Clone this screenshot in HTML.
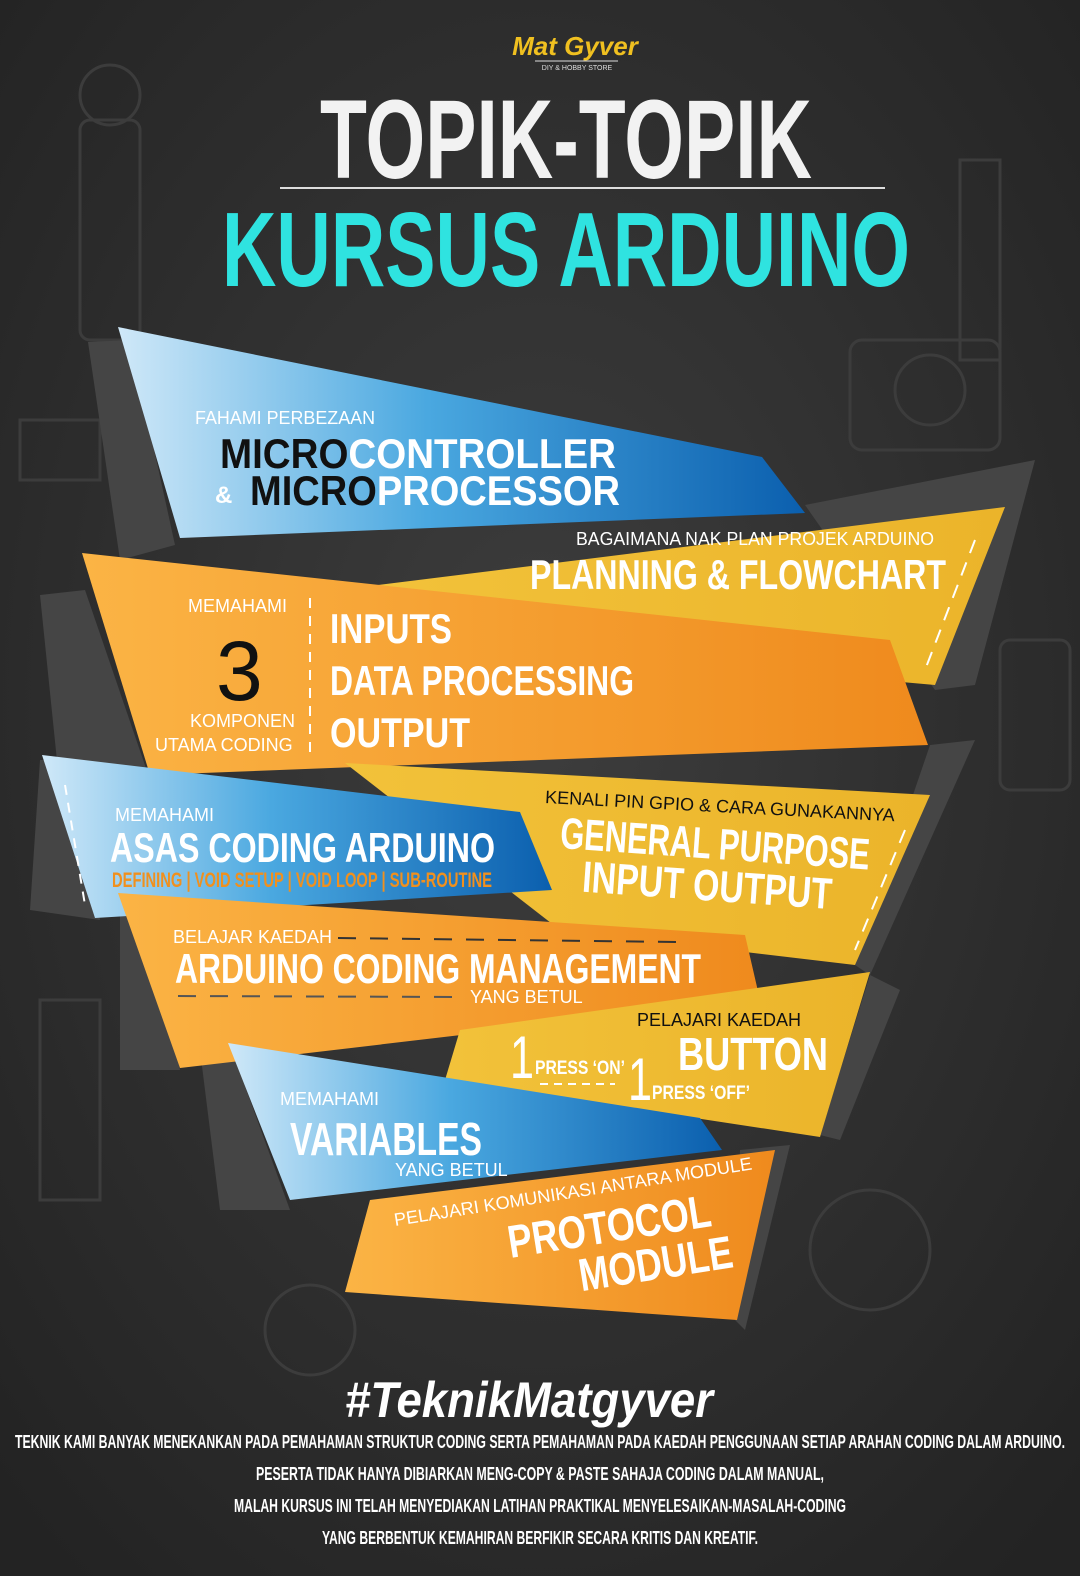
<!DOCTYPE html>
<html><head><meta charset="utf-8"><style>
html,body{margin:0;padding:0;background:#2c2c2c;}
svg{display:block}
text{font-family:"Liberation Sans Narrow","Liberation Sans",sans-serif;}
.b{font-weight:bold}
</style></head><body>
<svg width="1080" height="1576" viewBox="0 0 1080 1576" xmlns="http://www.w3.org/2000/svg">
<defs>
<radialGradient id="bg" cx="0.5" cy="0.45" r="0.7">
<stop offset="0" stop-color="#3d3d3d"/><stop offset="1" stop-color="#232323"/></radialGradient>
<linearGradient id="blue" x1="0" y1="0" x2="1" y2="0">
<stop offset="0" stop-color="#cfe8f8"/><stop offset="0.45" stop-color="#4aa8e0"/><stop offset="1" stop-color="#0b5fae"/></linearGradient>
<linearGradient id="org" x1="0" y1="0" x2="1" y2="0">
<stop offset="0" stop-color="#fbb445"/><stop offset="1" stop-color="#ef8a1d"/></linearGradient>
<linearGradient id="yel" x1="0" y1="0" x2="1" y2="0">
<stop offset="0" stop-color="#f2c23a"/><stop offset="1" stop-color="#ebb42a"/></linearGradient>
</defs>
<rect width="1080" height="1576" fill="url(#bg)"/>
<g stroke="#3c3c3c" stroke-width="3" fill="none">
<rect x="80" y="120" width="60" height="220" rx="10"/><circle cx="110" cy="95" r="30"/>
<rect x="960" y="160" width="40" height="200"/><rect x="850" y="340" width="150" height="110" rx="12"/>
<circle cx="930" cy="390" r="35"/><rect x="1000" y="640" width="70" height="150" rx="10"/>
<circle cx="870" cy="1250" r="60"/><circle cx="310" cy="1330" r="45"/>
<rect x="20" y="420" width="80" height="60"/><rect x="40" y="1000" width="60" height="200"/>
</g>
<text x="575" y="55" text-anchor="middle" font-size="26" font-style="italic" fill="#f0c020" class="b" font-family="Liberation Serif">Mat Gyver</text>
<line x1="535" y1="61" x2="618" y2="61" stroke="#ddd" stroke-width="1"/>
<text x="577" y="70" text-anchor="middle" font-size="7" fill="#ddd">DIY &amp; HOBBY STORE</text>
<text x="320" y="178" font-size="112" class="b" fill="#f2f2f2" textLength="492" lengthAdjust="spacingAndGlyphs">TOPIK-TOPIK</text>
<line x1="280" y1="188" x2="885" y2="188" stroke="#ddd" stroke-width="2"/>
<text x="222" y="286" font-size="106" class="b" fill="#2fe3e0" textLength="688" lengthAdjust="spacingAndGlyphs">KURSUS ARDUINO</text>

<g fill="#454545">
<polygon points="88,342 130,340 175,545 120,560"/>
<polygon points="805,505 1035,460 975,685 935,690"/>
<polygon points="40,595 85,590 150,780 60,790"/>
<polygon points="930,745 975,740 870,975 855,965"/>
<polygon points="40,760 70,760 100,920 30,910"/>
<polygon points="120,900 150,900 180,1070 120,1070"/>
<polygon points="870,975 900,990 840,1140 820,1135"/>
<polygon points="200,1050 230,1045 290,1210 220,1210"/>
<polygon points="740,1150 790,1145 745,1330 735,1320"/>
</g>

<polygon points="118,327 762,457 805,513 180,538" fill="url(#blue)"/>
<text x="195" y="424" font-size="18" fill="#fff" textLength="180" lengthAdjust="spacingAndGlyphs">FAHAMI PERBEZAAN</text>
<text x="220" y="468" font-size="42" class="b" textLength="396" lengthAdjust="spacingAndGlyphs"><tspan fill="#111">MICRO</tspan><tspan fill="#fff">CONTROLLER</tspan></text>
<text x="215" y="503" font-size="24" class="b" fill="#fff">&amp;</text>
<text x="250" y="505" font-size="42" class="b" textLength="370" lengthAdjust="spacingAndGlyphs"><tspan fill="#111">MICRO</tspan><tspan fill="#fff">PROCESSOR</tspan></text>

<polygon points="378,585 1005,507 935,685 600,655" fill="url(#yel)"/>
<text x="576" y="545" font-size="18" fill="#fff" textLength="358" lengthAdjust="spacingAndGlyphs">BAGAIMANA NAK PLAN PROJEK ARDUINO</text>
<text x="530" y="589" font-size="42" class="b" fill="#fff" textLength="416" lengthAdjust="spacingAndGlyphs">PLANNING &amp; FLOWCHART</text>
<line x1="975" y1="540" x2="925" y2="670" stroke="#fff" stroke-width="2" stroke-dasharray="14,10"/>

<polygon points="82,553 890,640 928,745 150,775" fill="url(#org)"/>
<text x="188" y="612" font-size="18" fill="#fff">MEMAHAMI</text>
<text x="216" y="700" font-size="84" fill="#111">3</text>
<text x="190" y="727" font-size="18" fill="#fff">KOMPONEN</text>
<text x="155" y="751" font-size="18" fill="#fff">UTAMA CODING</text>
<line x1="310" y1="598" x2="310" y2="752" stroke="#fff" stroke-width="2" stroke-dasharray="10,8"/>
<text x="330" y="643" font-size="42" class="b" fill="#fff" textLength="122" lengthAdjust="spacingAndGlyphs">INPUTS</text>
<text x="330" y="695" font-size="42" class="b" fill="#fff" textLength="304" lengthAdjust="spacingAndGlyphs">DATA PROCESSING</text>
<text x="330" y="747" font-size="42" class="b" fill="#fff" textLength="140" lengthAdjust="spacingAndGlyphs">OUTPUT</text>

<polygon points="345,763 930,795 855,965 560,930" fill="url(#yel)"/>
<g transform="rotate(3 545 800)"><text x="545" y="803" font-size="18" fill="#111" textLength="350" lengthAdjust="spacingAndGlyphs">KENALI PIN GPIO &amp; CARA GUNAKANNYA</text></g>
<g transform="rotate(4 560 840)"><text x="560" y="848" font-size="44" class="b" fill="#fff" textLength="310" lengthAdjust="spacingAndGlyphs">GENERAL PURPOSE</text>
<text x="585" y="890" font-size="44" class="b" fill="#fff" textLength="250" lengthAdjust="spacingAndGlyphs">INPUT OUTPUT</text></g>
<line x1="905" y1="830" x2="855" y2="950" stroke="#fff" stroke-width="2" stroke-dasharray="14,10"/>

<polygon points="42,755 520,812 552,890 95,918" fill="url(#blue)"/>
<line x1="65" y1="785" x2="85" y2="905" stroke="#fff" stroke-width="2" stroke-dasharray="10,8"/>
<text x="115" y="821" font-size="18" fill="#fff">MEMAHAMI</text>
<text x="110" y="862" font-size="42" class="b" fill="#fff" textLength="385" lengthAdjust="spacingAndGlyphs">ASAS CODING ARDUINO</text>
<text x="112" y="887" font-size="21" class="b" fill="#f0901e" textLength="380" lengthAdjust="spacingAndGlyphs">DEFINING | VOID SETUP | VOID LOOP | SUB-ROUTINE</text>

<polygon points="118,893 745,935 760,1000 180,1068" fill="url(#org)"/>
<text x="173" y="943" font-size="18" fill="#fff">BELAJAR KAEDAH</text>
<line x1="338" y1="938" x2="680" y2="942" stroke="#333" stroke-width="2" stroke-dasharray="18,14"/>
<text x="175" y="983" font-size="42" class="b" fill="#fff" textLength="526" lengthAdjust="spacingAndGlyphs">ARDUINO CODING MANAGEMENT</text>
<line x1="178" y1="996" x2="460" y2="997" stroke="#555" stroke-width="2" stroke-dasharray="18,14"/>
<text x="470" y="1003" font-size="18" fill="#fff">YANG BETUL</text>

<polygon points="460,1030 870,972 820,1137 445,1080" fill="url(#yel)"/>
<text x="637" y="1026" font-size="18" fill="#111">PELAJARI KAEDAH</text>
<text x="678" y="1070" font-size="46" class="b" fill="#fff" textLength="150" lengthAdjust="spacingAndGlyphs">BUTTON</text>
<text x="510" y="1078" font-size="60" fill="#fff" textLength="24" lengthAdjust="spacingAndGlyphs">1</text>
<text x="535" y="1074" font-size="19" class="b" fill="#fff" textLength="90" lengthAdjust="spacingAndGlyphs">PRESS ‘ON’</text>
<line x1="540" y1="1084" x2="615" y2="1084" stroke="#fff" stroke-width="2" stroke-dasharray="8,6"/>
<text x="628" y="1100" font-size="60" fill="#fff" textLength="24" lengthAdjust="spacingAndGlyphs">1</text>
<text x="652" y="1099" font-size="19" class="b" fill="#fff" textLength="98" lengthAdjust="spacingAndGlyphs">PRESS ‘OFF’</text>

<polygon points="228,1043 700,1118 722,1150 290,1200" fill="url(#blue)"/>
<text x="280" y="1105" font-size="18" fill="#fff">MEMAHAMI</text>
<text x="290" y="1155" font-size="46" class="b" fill="#fff" textLength="192" lengthAdjust="spacingAndGlyphs">VARIABLES</text>
<text x="395" y="1176" font-size="18" fill="#fff">YANG BETUL</text>

<polygon points="370,1200 775,1150 737,1320 345,1292" fill="url(#org)"/>
<g transform="rotate(-9 395 1225)"><text x="395" y="1226" font-size="18" fill="#fff" textLength="362" lengthAdjust="spacingAndGlyphs">PELAJARI KOMUNIKASI ANTARA MODULE</text></g>
<g transform="rotate(-9 510 1255)"><text x="510" y="1258" font-size="46" class="b" fill="#fff" textLength="205" lengthAdjust="spacingAndGlyphs">PROTOCOL</text>
<text x="575" y="1302" font-size="46" class="b" fill="#fff" textLength="155" lengthAdjust="spacingAndGlyphs">MODULE</text></g>

<text x="345" y="1417" font-size="50" class="b" font-style="italic" fill="#fff" textLength="368" lengthAdjust="spacingAndGlyphs">#TeknikMatgyver</text>
<g font-size="18" class="b" fill="#fff" text-anchor="middle">
<text x="540" y="1448" textLength="1050" lengthAdjust="spacingAndGlyphs">TEKNIK KAMI BANYAK MENEKANKAN PADA PEMAHAMAN STRUKTUR CODING SERTA PEMAHAMAN PADA KAEDAH PENGGUNAAN  SETIAP ARAHAN CODING DALAM ARDUINO.</text>
<text x="540" y="1480" textLength="568" lengthAdjust="spacingAndGlyphs">PESERTA TIDAK HANYA DIBIARKAN MENG-COPY &amp; PASTE SAHAJA CODING DALAM MANUAL,</text>
<text x="540" y="1512" textLength="612" lengthAdjust="spacingAndGlyphs">MALAH KURSUS INI TELAH MENYEDIAKAN LATIHAN PRAKTIKAL MENYELESAIKAN-MASALAH-CODING</text>
<text x="540" y="1544" textLength="436" lengthAdjust="spacingAndGlyphs">YANG BERBENTUK KEMAHIRAN BERFIKIR SECARA KRITIS DAN KREATIF.</text>
</g>
</svg>
</body></html>
